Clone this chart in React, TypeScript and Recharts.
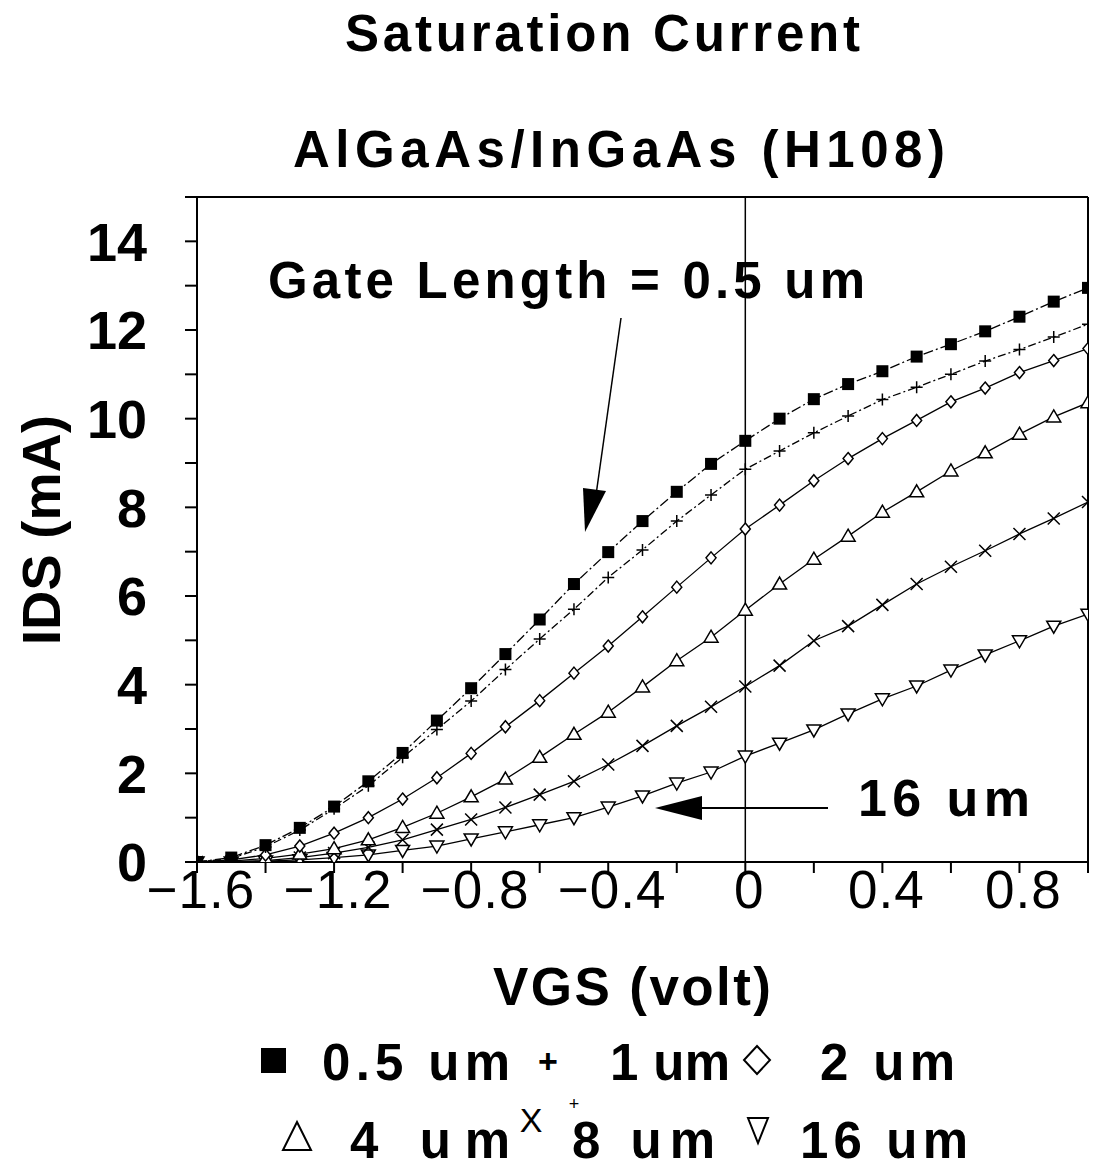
import React from "react";
import {
  LineChart,
  Line,
  XAxis,
  YAxis,
  ReferenceLine,
} from "recharts";

// gate voltage (V)
const vgs = [
  -1.6, -1.5, -1.4, -1.3, -1.2, -1.1, -1.0, -0.9, -0.8, -0.7, -0.6, -0.5, -0.4,
  -0.3, -0.2, -0.1, 0, 0.1, 0.2, 0.3, 0.4, 0.5, 0.6, 0.7, 0.8, 0.9, 1.0,
];

// IDS (mA) for each gate length
const ids05 = [0, 0.1, 0.38, 0.77, 1.25, 1.82, 2.46, 3.19, 3.92, 4.69, 5.47, 6.27, 6.99, 7.69, 8.35, 8.98, 9.5, 10.0, 10.44, 10.78, 11.07, 11.4, 11.68, 11.97, 12.3, 12.64, 12.95];
const ids1 = [0, 0.08, 0.34, 0.72, 1.2, 1.72, 2.36, 2.99, 3.63, 4.34, 5.03, 5.7, 6.42, 7.04, 7.69, 8.28, 8.86, 9.27, 9.68, 10.06, 10.43, 10.71, 11.0, 11.3, 11.56, 11.84, 12.13];
const ids2 = [0, 0.05, 0.16, 0.36, 0.65, 1.0, 1.42, 1.9, 2.45, 3.05, 3.64, 4.26, 4.87, 5.53, 6.2, 6.86, 7.51, 8.05, 8.6, 9.1, 9.55, 9.96, 10.38, 10.69, 11.04, 11.31, 11.58];
const ids4 = [0, 0.02, 0.08, 0.18, 0.3, 0.5, 0.78, 1.1, 1.47, 1.87, 2.36, 2.88, 3.38, 3.95, 4.54, 5.07, 5.68, 6.27, 6.83, 7.35, 7.89, 8.35, 8.82, 9.23, 9.65, 10.04, 10.36];
const ids8 = [0, 0.01, 0.03, 0.1, 0.2, 0.33, 0.5, 0.73, 0.96, 1.23, 1.52, 1.82, 2.2, 2.62, 3.07, 3.5, 3.96, 4.43, 4.99, 5.32, 5.8, 6.27, 6.66, 7.02, 7.4, 7.75, 8.12];
const ids16 = [0, 0, 0.02, 0.05, 0.1, 0.16, 0.26, 0.36, 0.52, 0.68, 0.84, 1.0, 1.24, 1.49, 1.78, 2.03, 2.39, 2.68, 2.98, 3.34, 3.68, 3.97, 4.33, 4.67, 4.99, 5.32, 5.59];

const xTicks = [-1.6, -1.4, -1.2, -1.0, -0.8, -0.6, -0.4, -0.2, 0, 0.2, 0.4, 0.6, 0.8, 1.0];
const yTicks = [0, 1, 2, 3, 4, 5, 6, 7, 8, 9, 10, 11, 12, 13, 14, 15];

const data = vgs.map((v, i) => ({
  vgs: v,
  g05: ids05[i],
  g1: ids1[i],
  g2: ids2[i],
  g4: ids4[i],
  g8: ids8[i],
  g16: ids16[i],
}));

const font = "'Liberation Sans', Arial, sans-serif";

type Shape = "square" | "plus" | "diamond" | "up" | "cross" | "down";

function marker(shape: Shape) {
  return (props: any) => {
    const { cx, cy, index } = props;
    const k = `${shape}-${index}`;
    if (cx == null || cy == null) return <g key={k} />;
    switch (shape) {
      case "square":
        return <rect key={k} x={cx - 6} y={cy - 6} width={12} height={12} fill="#000" />;
      case "plus":
        return (
          <path key={k} d={`M${cx - 6},${cy}H${cx + 6}M${cx},${cy - 6}V${cy + 6}`} stroke="#000" strokeWidth={1.5} fill="none" />
        );
      case "diamond":
        return (
          <path key={k} d={`M${cx},${cy - 6}L${cx + 5},${cy}L${cx},${cy + 6}L${cx - 5},${cy}Z`} stroke="#000" strokeWidth={1.5} fill="#fff" />
        );
      case "up":
        return (
          <path key={k} d={`M${cx},${cy - 7}L${cx + 7},${cy + 5}L${cx - 7},${cy + 5}Z`} stroke="#000" strokeWidth={1.5} fill="#fff" />
        );
      case "cross":
        return (
          <path key={k} d={`M${cx - 6},${cy - 6}L${cx + 6},${cy + 6}M${cx + 6},${cy - 6}L${cx - 6},${cy + 6}`} stroke="#000" strokeWidth={1.5} fill="none" />
        );
      default:
        return (
          <path key={k} d={`M${cx - 7},${cy - 5}L${cx + 7},${cy - 5}L${cx},${cy + 7}Z`} stroke="#000" strokeWidth={1.5} fill="#fff" />
        );
    }
  };
}

const series: { key: string; shape: Shape; dash?: string }[] = [
  { key: "g16", shape: "down" },
  { key: "g8", shape: "cross" },
  { key: "g4", shape: "up" },
  { key: "g2", shape: "diamond" },
  { key: "g1", shape: "plus", dash: "8 3 2 3" },
  { key: "g05", shape: "square", dash: "10 3 2 3" },
];

const xFmt = (v: number) => {
  const n = Math.round(v * 10);
  if (Math.abs(n) % 4 !== 0) return "";
  return n === 0 ? "0" : (n < 0 ? "\u2212" : "") + Math.abs(v).toFixed(1);
};
const yFmt = (v: number) => (v % 2 === 0 && v < 15 ? String(v) : "");

export default function App() {
  return (
    <div style={{ position: "absolute", left: 0, top: 0, width: 1093, height: 1168, background: "#fff", fontFamily: font }}>
      <LineChart
        width={1093}
        height={1168}
        data={data}
        margin={{ top: 197, right: 5, bottom: 246, left: 137 }}
      >
        <XAxis
          dataKey="vgs"
          type="number"
          domain={[-1.6, 1.0]}
          ticks={xTicks}
          interval={0}
          tickFormatter={xFmt}
          height={60}
          stroke="#000"
          strokeWidth={2}
          tickSize={11}
          tickMargin={-3}
          tick={{ fontSize: 53, fill: "#000", fontFamily: font, letterSpacing: 1, dx: 4 }}
          allowDataOverflow
        />
        <YAxis
          type="number"
          domain={[0, 15]}
          ticks={yTicks}
          interval={0}
          tickFormatter={yFmt}
          width={60}
          stroke="#000"
          strokeWidth={2}
          tickSize={12}
          tickMargin={38}
          tick={{ fontSize: 54, fill: "#000", fontFamily: font, fontWeight: "bold" }}
          allowDataOverflow
        />
        <ReferenceLine x={0} stroke="#000" strokeWidth={1.5} />
        <ReferenceLine y={15} stroke="#000" strokeWidth={2} />
        <ReferenceLine x={1.0} stroke="#000" strokeWidth={2} />
        {series.map((s) => (
          <Line
            key={s.key}
            dataKey={s.key}
            type="linear"
            stroke="#000"
            strokeWidth={1.3}
            strokeDasharray={s.dash}
            dot={marker(s.shape)}
            activeDot={false}
            isAnimationActive={false}
          />
        ))}
      </LineChart>
      <svg
        width={1093}
        height={1168}
        style={{ position: "absolute", left: 0, top: 0, pointerEvents: "none" }}
        fontFamily={font}
      >
        <text x={345} y={51} fontSize={51} fontWeight="bold" textLength={515} lengthAdjust="spacing">Saturation Current</text>
        <text x={293} y={167} fontSize={51} fontWeight="bold" textLength={652} lengthAdjust="spacing">AlGaAs/InGaAs (H108)</text>
        <text x={268} y={298} fontSize={51} fontWeight="bold" textLength={597} lengthAdjust="spacing">Gate Length = 0.5 um</text>
        <line x1={621} y1={318} x2={596} y2={495} stroke="#000" strokeWidth={1.5} />
        <polygon points="585,532 583,488 606,491" fill="#000" />
        <text x={858} y={816} fontSize={52} fontWeight="bold" textLength={172} lengthAdjust="spacing">16 um</text>
        <line x1={828} y1={808} x2={700} y2={808} stroke="#000" strokeWidth={2} />
        <polygon points="655,808 702,796 702,820" fill="#000" />
        <text transform="translate(60,530) rotate(-90)" textAnchor="middle" fontSize={54} fontWeight="bold" textLength={230} lengthAdjust="spacing">IDS (mA)</text>
        <text x={493} y={1005} fontSize={53} fontWeight="bold" textLength={278} lengthAdjust="spacing">VGS (volt)</text>
        {/* legend */}
        <rect x={261} y={1048} width={25} height={25} fill="#000" />
        <text x={322} y={1080} fontSize={51} fontWeight="bold" textLength={188} lengthAdjust="spacing">0.5 um</text>
        <text x={548} y={1073} textAnchor="middle" fontSize={34} fontWeight="bold">+</text>
        <text x={610} y={1080} fontSize={51} fontWeight="bold" textLength={120} lengthAdjust="spacing">1 um</text>
        <path d="M757,1046L770,1060L757,1074L744,1060Z" stroke="#000" strokeWidth={2} fill="none" />
        <text x={820} y={1080} fontSize={51} fontWeight="bold" textLength={135} lengthAdjust="spacing">2 um</text>
        <path d="M297,1122L311,1150L283,1150Z" stroke="#000" strokeWidth={2} fill="none" />
        <text x={350} y={1158} fontSize={51} fontWeight="bold" textLength={160} lengthAdjust="spacing">4 um</text>
        <text x={531} y={1132} textAnchor="middle" fontSize={34}>X</text>
        <text x={574} y={1110} textAnchor="middle" fontSize={18}>+</text>
        <text x={572} y={1158} fontSize={51} fontWeight="bold" textLength={143} lengthAdjust="spacing">8 um</text>
        <path d="M748,1118L768,1118L758,1143Z" stroke="#000" strokeWidth={2} fill="none" />
        <text x={800} y={1158} fontSize={51} fontWeight="bold" textLength={168} lengthAdjust="spacing">16 um</text>
      </svg>
    </div>
  );
}
